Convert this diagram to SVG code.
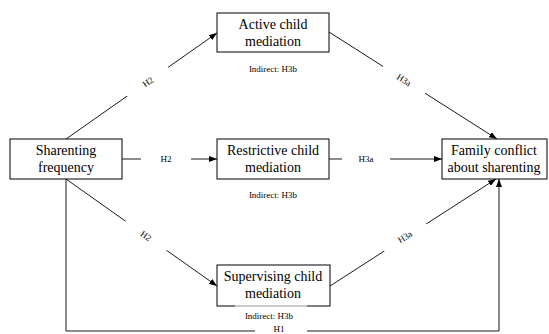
<svg xmlns="http://www.w3.org/2000/svg" width="549" height="334" viewBox="0 0 549 334">
<style>
.box{fill:#fff;stroke:#000;stroke-width:1}
.t{font-family:"Liberation Serif","Times New Roman",serif;font-size:14px;fill:#000;text-anchor:middle}
.s{font-family:"Liberation Serif","Times New Roman",serif;font-size:9px;fill:#000;text-anchor:middle}
.c{fill:none;stroke:#000;stroke-width:0.9}
.gap{fill:#fff;stroke:none}
</style>
<defs>
<marker id="ah" markerUnits="userSpaceOnUse" markerWidth="8" markerHeight="6" refX="8" refY="3" orient="auto">
<path d="M0,0 L8,3 L0,6 z" fill="#000"/>
</marker>
</defs>
<rect width="549" height="334" fill="#fff"/>
<g id="connectors">
<line class="c" x1="66" y1="139" x2="217" y2="33" marker-end="url(#ah)"/>
<line class="c" x1="122" y1="159" x2="217" y2="159" marker-end="url(#ah)"/>
<line class="c" x1="66" y1="179" x2="217" y2="286" marker-end="url(#ah)"/>
<line class="c" x1="329" y1="32" x2="497" y2="139" marker-end="url(#ah)"/>
<line class="c" x1="329" y1="159" x2="442" y2="159" marker-end="url(#ah)"/>
<line class="c" x1="330" y1="286" x2="496" y2="179" marker-end="url(#ah)"/>
<polyline class="c" points="66,179 66,331 499,331 499,179" marker-end="url(#ah)"/>
<g transform="translate(148,82) rotate(-35)"><rect class="gap" x="-25" y="-6" width="50" height="12"/><text class="s" y="3">H2</text></g>
<g transform="translate(166,159)"><rect class="gap" x="-25" y="-6" width="50" height="12"/><text class="s" y="3">H2</text></g>
<g transform="translate(146,236) rotate(35)"><rect class="gap" x="-25" y="-6" width="50" height="12"/><text class="s" y="3">H2</text></g>
<g transform="translate(404,80) rotate(32.5)"><rect class="gap" x="-25" y="-6" width="50" height="12"/><text class="s" y="3">H3a</text></g>
<g transform="translate(366,159)"><rect class="gap" x="-24" y="-6" width="48" height="12"/><text class="s" y="3">H3a</text></g>
<g transform="translate(405,237) rotate(-32.5)"><rect class="gap" x="-25" y="-6" width="50" height="12"/><text class="s" y="3">H3a</text></g>
<rect class="gap" x="255" y="325" width="52" height="9"/>
<text class="s" x="279" y="332">H1</text>
</g>
<g id="sharenting">
<rect class="box" x="10" y="139" width="112" height="40"/>
<text class="t" x="66" y="155">Sharenting</text>
<text class="t" x="66" y="172">frequency</text>
</g>
<g id="active">
<rect class="box" x="217" y="13" width="112" height="39"/>
<text class="t" x="273" y="29">Active child</text>
<text class="t" x="273" y="46">mediation</text>
<text class="s" x="273" y="72">Indirect: H3b</text>
</g>
<g id="restrictive">
<rect class="box" x="217" y="139" width="112" height="40"/>
<text class="t" x="273" y="155">Restrictive child</text>
<text class="t" x="273" y="172">mediation</text>
<text class="s" x="273" y="198">Indirect: H3b</text>
</g>
<g id="supervising">
<rect class="box" x="217" y="265" width="113" height="41"/>
<text class="t" x="273" y="281">Supervising child</text>
<text class="t" x="273" y="298">mediation</text>
<rect x="235" y="305" width="72" height="3" fill="#fff" opacity="0.6"/>
<text class="s" x="269" y="319">Indirect: H3b</text>
</g>
<g id="family">
<rect class="box" x="442" y="139" width="105" height="40"/>
<text class="t" x="494" y="155">Family conflict</text>
<text class="t" x="494" y="172">about sharenting</text>
</g>
</svg>
